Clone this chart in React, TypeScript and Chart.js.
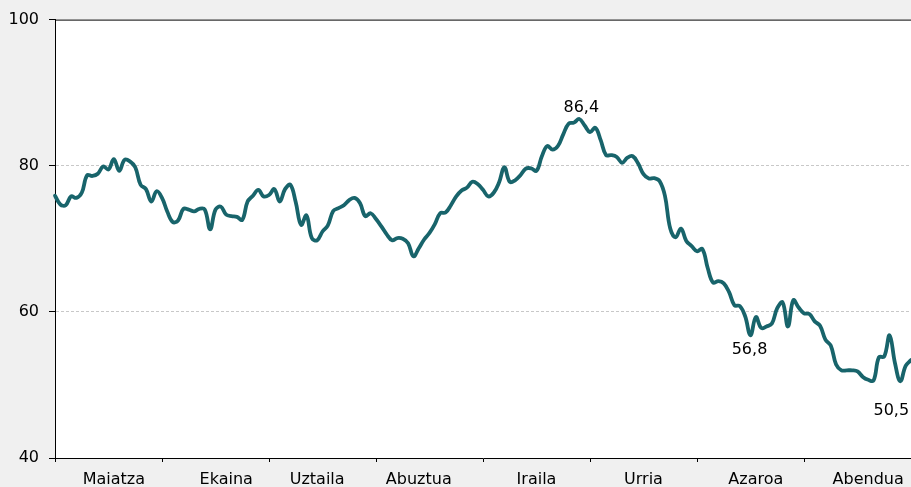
import React, { useEffect, useRef } from 'react';
import { Chart, registerables } from 'chart.js';

Chart.register(...registerables);

// ---- data ----
const MONTHS = ['Maiatza', 'Ekaina', 'Uztaila', 'Abuztua', 'Iraila', 'Urria', 'Azaroa', 'Abendua'];
const MONTH_LABEL_INDEX = [11, 32, 49, 68, 90, 110, 131, 152];
const POINTS_PER_MONTH = 20;
const Y_MIN = 40;
const Y_MAX = 100;
const Y_STEP = 20;

const VALUES = [
  75.9, 74.7, 74.6, 75.8, 75.6, 76.3, 78.7, 78.6, 78.9, 79.9,
  79.5, 80.9, 79.3, 80.8, 80.6, 79.8, 77.4, 76.8, 75.1, 76.5,
  75.6, 73.7, 72.3, 72.5, 74.1, 74.0, 73.75, 74.1, 74.0, 71.3,
  74.0, 74.4, 73.3, 73.1, 73.0, 72.6, 75.1, 75.9, 76.7, 75.8,
  76.0, 76.8, 75.1, 76.8, 77.4, 75.0, 71.9, 73.2, 70.1, 69.8,
  71.0, 71.85, 73.8, 74.2, 74.6, 75.3, 75.6, 74.9, 73.1, 73.5,
  72.7, 71.7, 70.6, 69.8, 70.1, 70.0, 69.4, 67.6, 68.7, 69.9,
  70.8, 72.0, 73.5, 73.6, 74.6, 75.8, 76.6, 77.0, 77.8, 77.5,
  76.7, 75.8, 76.3, 77.7, 79.8, 77.8, 78.0, 78.7, 79.6, 79.65,
  79.3, 81.3, 82.7, 82.2, 82.7, 84.3, 85.75, 85.9, 86.4, 85.5,
  84.6, 85.2, 83.5, 81.45, 81.45, 81.2, 80.4, 81.1, 81.3, 80.3,
  78.85, 78.25, 78.3, 77.9, 75.9, 71.4, 70.2, 71.4, 69.7, 69.0,
  68.3, 68.6, 66.0, 64.0, 64.2, 63.9, 62.7, 60.9, 60.8, 59.4,
  56.8, 59.3, 57.8, 58.0, 58.4, 60.5, 61.3, 58.0, 61.6, 60.6,
  59.8, 59.7, 58.7, 58.1, 56.2, 55.4, 52.8, 52.0, 52.0, 52.0,
  51.85, 51.1, 50.7, 50.6, 53.8, 53.9, 56.8, 53.0, 50.5, 52.6,
  53.4,
];
const CATEGORIES = VALUES.map((_, i) => String(i));

const ANNOTATION_INDEX = [98, 130, 158];
const ANNOTATION_TEXT = ['86,4', '56,8', '50,5'];

// ---- style ----
const LINE_COLOR = '#18646b';
const FONT_FAMILY = '"DejaVu Sans", "Liberation Sans", Arial, sans-serif';
const FONT_SIZE = 16;
// placement of annotation text relative to its point: [dx, dy(baseline)]
const ANNOTATION_PLACEMENT: [number, number][] = [[2, -7], [-1, 19], [-9, 34]];

const framePlugin = {
  id: 'frame',
  beforeDraw(chart: any) {
    const { ctx, chartArea: a, width, height } = chart;
    ctx.save();
    ctx.fillStyle = '#f0f0f0';
    ctx.fillRect(0, 0, width, height);
    ctx.fillStyle = '#ffffff';
    ctx.fillRect(a.left, a.top, a.right - a.left, a.bottom - a.top);
    ctx.restore();
  },
  afterDraw(chart: any) {
    const { ctx, chartArea: a } = chart;
    ctx.save();
    ctx.strokeStyle = '#000000';
    ctx.lineWidth = 1;
    ctx.beginPath();
    ctx.moveTo(a.left, a.top + 0.5);
    ctx.lineTo(a.right, a.top + 0.5);
    ctx.stroke();
    ctx.restore();
  },
  afterDatasetsDraw(chart: any) {
    const { ctx } = chart;
    const meta = chart.getDatasetMeta(0);
    ctx.save();
    ctx.fillStyle = '#000000';
    ctx.font = `${FONT_SIZE}px ${FONT_FAMILY}`;
    ctx.textAlign = 'center';
    ctx.textBaseline = 'alphabetic';
    ANNOTATION_INDEX.forEach((idx, k) => {
      const pt = meta.data[idx];
      if (!pt) return;
      const [dx, dy] = ANNOTATION_PLACEMENT[k];
      ctx.fillText(ANNOTATION_TEXT[k], pt.x + dx, pt.y + dy);
    });
    ctx.restore();
  },
};

export default function App() {
  const ref = useRef<HTMLCanvasElement>(null);

  useEffect(() => {
    document.body.style.margin = '0';
    const canvas = ref.current;
    if (!canvas) return;
    const chart = new Chart(canvas, {
      type: 'line',
      data: {
        labels: CATEGORIES,
        datasets: [
          {
            data: VALUES,
            borderColor: LINE_COLOR,
            borderWidth: 3.8,
            pointRadius: 0,
            pointHoverRadius: 0,
            tension: 0.4,
            fill: false,
            borderCapStyle: 'round',
            borderJoinStyle: 'round',
          },
        ],
      },
      options: {
        responsive: false,
        animation: false,
        layout: { padding: { top: 18, right: 0, left: 0, bottom: 0 } },
        plugins: {
          legend: { display: false },
          tooltip: { enabled: false },
        },
        scales: {
          x: {
            type: 'category',
            offset: false,
            afterFit: (scale: any) => {
              scale.height = 29;
              scale.paddingRight = 0;
              scale.paddingLeft = 0;
            },
            border: { display: true, color: '#000000', width: 1 },
            grid: {
              drawOnChartArea: false,
              drawTicks: true,
              tickLength: 4,
              color: (c: any) => (c.index % POINTS_PER_MONTH === 0 ? '#000000' : 'rgba(0,0,0,0)'),
              tickColor: (c: any) => (c.index % POINTS_PER_MONTH === 0 ? '#000000' : 'rgba(0,0,0,0)'),
            },
            ticks: {
              autoSkip: false,
              maxRotation: 0,
              minRotation: 0,
              padding: 8,
              color: '#000000',
              font: { family: FONT_FAMILY, size: FONT_SIZE },
              callback: (_v: any, i: number) => {
                const k = MONTH_LABEL_INDEX.indexOf(i);
                return k >= 0 ? MONTHS[k] : '';
              },
            },
          },
          y: {
            min: Y_MIN,
            max: Y_MAX,
            afterFit: (scale: any) => {
              scale.width = 55;
            },
            border: { display: true, color: '#000000', width: 1, dash: [3, 2] },
            grid: {
              drawTicks: true,
              tickLength: 6,
              tickColor: '#000000',
              color: (c: any) =>
                c.tick && (c.tick.value === Y_MIN || c.tick.value === Y_MAX) ? 'rgba(0,0,0,0)' : '#c8c8c8',
            },
            ticks: {
              stepSize: Y_STEP,
              padding: 10,
              color: '#000000',
              font: { family: FONT_FAMILY, size: FONT_SIZE },
            },
          },
        },
      },
      plugins: [framePlugin],
    } as any);
    return () => chart.destroy();
  }, []);

  return (
    <div style={{ position: 'fixed', left: 0, top: 0, width: 911, height: 487, background: '#f0f0f0' }}>
      <canvas ref={ref} width={911} height={487} style={{ display: 'block', width: 911, height: 487 }} />
    </div>
  );
}
